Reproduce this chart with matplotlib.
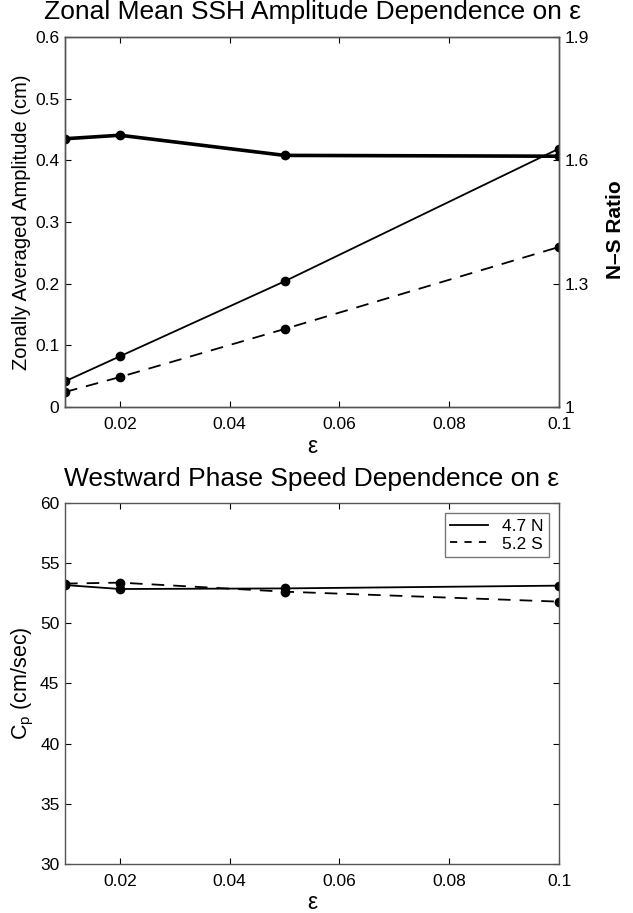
import matplotlib
matplotlib.use("Agg")
import matplotlib.pyplot as plt
from matplotlib.lines import Line2D

plt.rcParams["font.family"] = ["Liberation Sans", "DejaVu Sans"]

# epsilon values used in both panels
eps = [0.01, 0.02, 0.05, 0.1]

# top panel: zonally averaged SSH amplitude (cm) and N-S ratio
amp_north = [0.0416, 0.0822, 0.2038, 0.419]
amp_south = [0.0243, 0.0486, 0.1265, 0.2595]
ns_ratio = [1.6525, 1.661, 1.612, 1.610]

# bottom panel: westward phase speed (cm/sec)
cp_north = [53.18, 52.85, 52.9, 53.13]
cp_south = [53.3, 53.38, 52.63, 51.8]

xticks = [0.02, 0.04, 0.06, 0.08, 0.1]
xticklabels = ["0.02", "0.04", "0.06", "0.08", "0.1"]

SPINE = "#555555"
TICK_FS = 12.5
LABEL_FS = 14.5
TITLE_FS = 19


def style_axes(ax):
    for s in ax.spines.values():
        s.set_color(SPINE)
        s.set_linewidth(1.0)
    ax.tick_params(direction="in", length=4, width=0.8, color="black",
                   labelsize=TICK_FS, pad=4)
    ax.tick_params(axis="x", pad=7)


fig = plt.figure(figsize=(6.33, 9.13), dpi=100)

# ── TOP PANEL ────────────────────────────────────────────────────────────────
ax1 = fig.add_axes([0.1027, 0.5542, 0.7804, 0.4053])
ax1.plot(eps, amp_north, "-", color="black", lw=1.3, marker="o", ms=6)
ax1.plot(eps, amp_south, "--", color="black", lw=1.3, marker="o", ms=6,
         dashes=(7, 5))
ax1.set_xlim(0.01, 0.1)
ax1.set_ylim(0, 0.6)
ax1.set_xticks(xticks)
ax1.set_xticklabels(xticklabels)
ax1.set_yticks([0, 0.1, 0.2, 0.3, 0.4, 0.5, 0.6])
ax1.set_yticklabels(["0", "0.1", "0.2", "0.3", "0.4", "0.5", "0.6"])
ax1.tick_params(top=True, right=False)
style_axes(ax1)
ax1.set_xlabel("ε", fontsize=LABEL_FS + 2, labelpad=2)
ax1.set_ylabel("Zonally Averaged Amplitude (cm)", fontsize=LABEL_FS,
               labelpad=3)
ax1.set_title("Zonal Mean SSH Amplitude Dependence on ε", fontsize=TITLE_FS,
              pad=13)

ax2 = ax1.twinx()
ax2.plot(eps, ns_ratio, "-", color="black", lw=2.6, marker="o", ms=6)
ax2.set_ylim(1, 1.9)
ax2.set_yticks([1, 1.3, 1.6, 1.9])
ax2.set_yticklabels(["1", "1.3", "1.6", "1.9"])
style_axes(ax2)
ax2.set_ylabel("N–S Ratio", fontsize=LABEL_FS + 0.5, fontweight="bold")
ax2.yaxis.set_label_coords(1.095, 0.48)

# ── BOTTOM PANEL ─────────────────────────────────────────────────────────────
ax3 = fig.add_axes([0.1027, 0.0537, 0.7804, 0.3954])
ax3.plot(eps, cp_north, "-", color="black", lw=1.3, marker="o", ms=6,
         label="4.7 N")
ax3.plot(eps, cp_south, "--", color="black", lw=1.3, marker="o", ms=6,
         dashes=(7, 5), label="5.2 S")
ax3.set_xlim(0.01, 0.1)
ax3.set_ylim(30, 60)
ax3.set_xticks(xticks)
ax3.set_xticklabels(xticklabels)
ax3.set_yticks([30, 35, 40, 45, 50, 55, 60])
ax3.tick_params(top=True, right=True)
style_axes(ax3)
ax3.set_xlabel("ε", fontsize=LABEL_FS + 2, labelpad=2)
ax3.set_ylabel("C$_\\mathregular{p}$ (cm/sec)", fontsize=LABEL_FS + 1,
               labelpad=3)
ax3.set_title("Westward Phase Speed Dependence on ε", fontsize=TITLE_FS,
              pad=12)

# legend lines without the markers, as in the original
handles = [Line2D([], [], color="black", lw=1.3, ls="-"),
           Line2D([], [], color="black", lw=1.3, ls="--", dashes=(4, 4))]
leg = ax3.legend(handles, ["4.7 N", "5.2 S"], loc="upper right",
                 fontsize=TICK_FS, frameon=True, fancybox=False,
                 edgecolor=SPINE, borderaxespad=0.6, handlelength=2.2,
                 labelspacing=0.15, borderpad=0.3, handletextpad=0.8)
leg.get_frame().set_linewidth(1.0)

fig.savefig("out.png", dpi=100)
